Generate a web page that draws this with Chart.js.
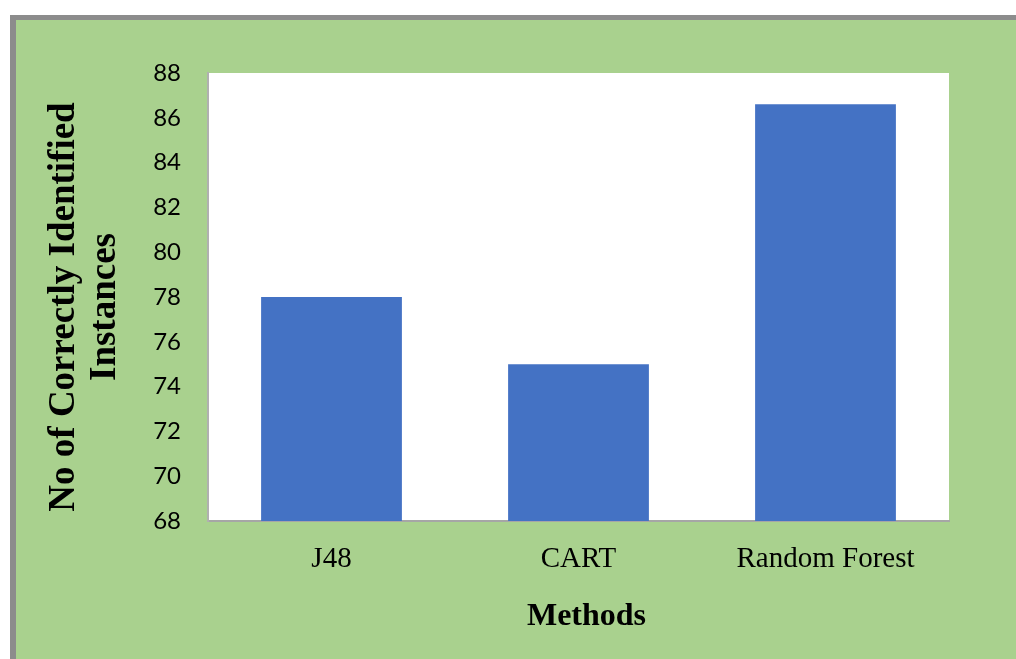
<!DOCTYPE html>
<html>
<head>
<meta charset="utf-8">
<script src="https://cdn.jsdelivr.net/npm/chart.js@4.4.1/dist/chart.umd.min.js"></script>
<style>
  html, body { margin: 0; padding: 0; background: #ffffff; }
  #wrap { position: absolute; left: 0; top: 0; width: 1016px; height: 659px; }
</style>
</head>
<body>
<div id="wrap"><canvas id="chart" width="1016" height="659"></canvas></div>
<script>
// Classifier comparison: correctly identified instances per method
const methods = ['J48', 'CART', 'Random Forest'];
const correctInstances = [78, 75, 86.6];
const yTicks = [68, 70, 72, 74, 76, 78, 80, 82, 84, 86, 88];
const xTitle = 'Methods';
const yTitleLines = ['No of Correctly Identified', 'Instances'];

const GREEN = '#a9d18e';
const FRAME = '#8c8c8c';
const BAR = '#4472c4';
const SERIF = '"Liberation Serif", "Times New Roman", serif';

// Page frame, green panel and white plot area
const panelPlugin = {
  id: 'panel',
  beforeDraw(chart) {
    const { ctx, width, height, chartArea } = chart;
    ctx.save();
    ctx.fillStyle = '#ffffff';
    ctx.fillRect(0, 0, width, height);
    ctx.fillStyle = FRAME;
    ctx.fillRect(10, 15, width - 10, height - 15);
    ctx.fillStyle = GREEN;
    ctx.fillRect(16, 20, width - 16, height - 20);
    ctx.fillStyle = '#ffffff';
    ctx.fillRect(chartArea.left, chartArea.top,
                 chartArea.right - chartArea.left, chartArea.bottom - chartArea.top);
    ctx.restore();
  }
};

// Axis titles: two-line rotated value-axis title and the category-axis title
const axisTitlePlugin = {
  id: 'axisTitles',
  afterDraw(chart) {
    const { ctx, chartArea } = chart;
    ctx.save();
    ctx.fillStyle = '#000000';
    ctx.textAlign = 'center';
    ctx.textBaseline = 'middle';

    ctx.font = 'bold 37px ' + SERIF;
    const cy = (chartArea.top + chartArea.bottom) / 2 + 10;
    const xs = [64.5, 105.5];
    yTitleLines.forEach((line, i) => {
      ctx.save();
      ctx.translate(xs[i], cy);
      ctx.rotate(-Math.PI / 2);
      ctx.fillText(line, 0, 0);
      ctx.restore();
    });

    ctx.font = 'bold 32px ' + SERIF;
    const cx = (chartArea.left + chartArea.right) / 2 + 8;
    ctx.fillText(xTitle, cx, chartArea.bottom + 96);
    ctx.restore();
  }
};

new Chart(document.getElementById('chart'), {
  type: 'bar',
  data: {
    labels: methods,
    datasets: [{
      data: correctInstances,
      backgroundColor: BAR,
      borderWidth: 0,
      categoryPercentage: 1.0,
      barPercentage: 0.57
    }]
  },
  options: {
    responsive: false,
    animation: false,
    devicePixelRatio: 1,
    layout: { padding: { left: 0, top: 73, right: 67, bottom: 0 } },
    plugins: {
      legend: { display: false },
      tooltip: { enabled: false }
    },
    scales: {
      x: {
        grid: { display: false, drawTicks: false },
        border: { display: true, color: '#a6a6a6', width: 2 },
        ticks: {
          color: '#000000',
          padding: 21,
          font: { family: SERIF, size: 29 }
        },
        afterFit(scale) { scale.height = 138; }
      },
      y: {
        min: 68,
        max: 88,
        grid: { display: false, drawTicks: false },
        border: { display: true, color: '#b0b0b0', width: 2 },
        afterBuildTicks(scale) { scale.ticks = yTicks.map(v => ({ value: v })); },
        ticks: {
          color: '#000000',
          padding: 27,
          font: { family: 'Lato, "Open Sans", sans-serif', size: 24 }
        },
        afterFit(scale) { scale.width = 208; }
      }
    }
  },
  plugins: [panelPlugin, axisTitlePlugin]
});
</script>
</body>
</html>
